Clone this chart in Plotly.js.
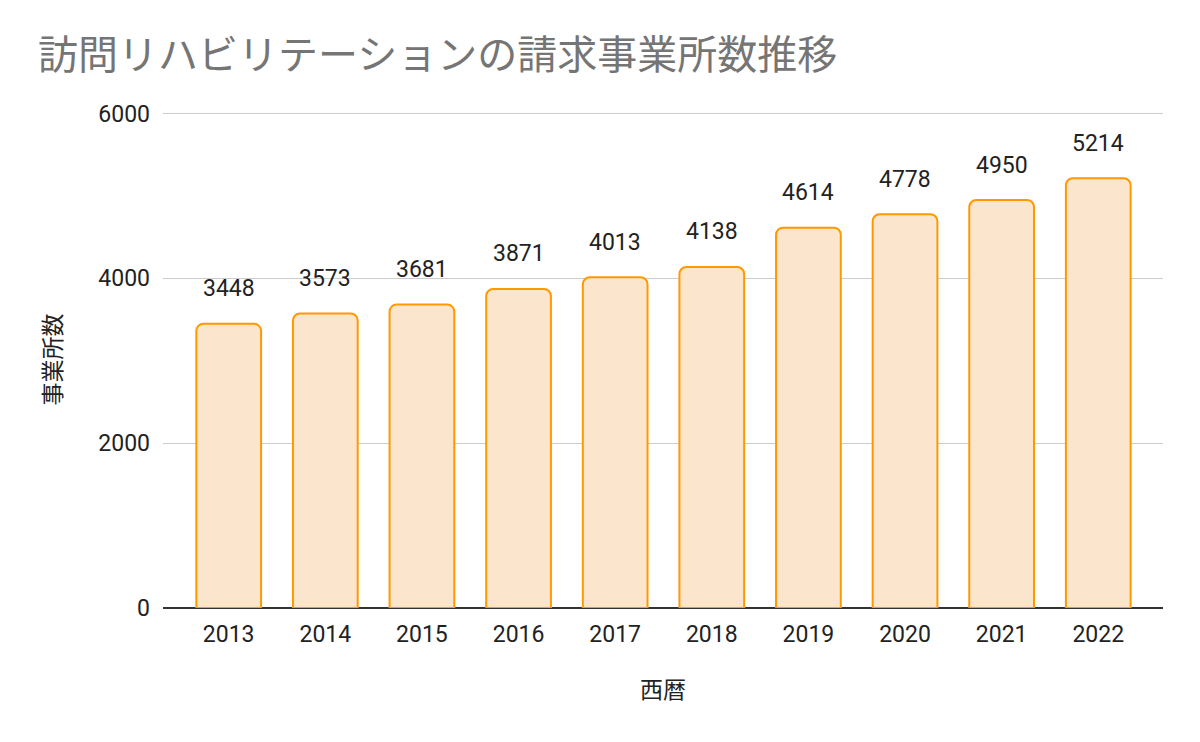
<!DOCTYPE html>
<html>
<head>
<meta charset="utf-8">
<script src="https://cdn.plot.ly/plotly-3.0.1.min.js"></script>
<style>html,body{margin:0;padding:0;background:#fff;}#chart{width:1200px;height:742px;}</style>
</head>
<body>
<div id="chart"></div>
<script>
const years = ["2013","2014","2015","2016","2017","2018","2019","2020","2021","2022"];
const counts = [3448, 3573, 3681, 3871, 4013, 4138, 4614, 4778, 4950, 5214];
const yTicks = [0, 2000, 4000, 6000];

const numFont = 'Roboto, Arial, sans-serif';
const cjkFont = 'Noto Sans CJK JP, sans-serif';

const trace = {
  type: 'bar',
  x: years,
  y: counts,
  width: 0.67,
  marker: {color: '#fce5cd', line: {color: '#ff9900', width: 2}},
  hoverinfo: 'none'
};

const annotations = years.map((yr, i) => ({
  x: i, y: counts[i], xref: 'x', yref: 'y',
  text: String(counts[i]), showarrow: false,
  xanchor: 'center', yanchor: 'middle', yshift: 35,
  font: {family: numFont, size: 23, color: '#222222'}
}));

const layout = {
  width: 1200, height: 742,
  margin: {l: 163, r: 37, t: 111, b: 134},
  paper_bgcolor: '#ffffff', plot_bgcolor: '#ffffff',
  barcornerradius: 7,
  showlegend: false,
  title: {
    text: '訪問リハビリテーションの請求事業所数推移',
    x: 38/1200, xanchor: 'left', xref: 'container',
    y: 1 - 55/742, yanchor: 'middle', yref: 'container',
    font: {family: cjkFont, size: 40, color: '#757575'}
  },
  xaxis: {
    type: 'category',
    range: [-0.68, 9.67],
    showgrid: false, showline: false, zeroline: false,
    ticks: '', ticklabelstandoff: 10,
    tickfont: {family: numFont, size: 23, color: '#222222'},
    title: {text: '西暦', standoff: 34, font: {family: cjkFont, size: 23, color: '#222222'}}
  },
  yaxis: {
    range: [0, 6030],
    tickvals: yTicks,
    ticktext: yTicks.map(String),
    showgrid: true, gridcolor: '#cccccc', gridwidth: 1,
    zeroline: true, zerolinecolor: '#333333', zerolinewidth: 2,
    showline: false, ticks: '',
    ticklabelstandoff: 12,
    tickfont: {family: numFont, size: 23, color: '#222222'},
    title: {text: '事業所数', standoff: 30, font: {family: cjkFont, size: 23, color: '#222222'}}
  },
  annotations: annotations
};

Plotly.newPlot('chart', [trace], layout, {displayModeBar: false, staticPlot: true});
</script>
</body>
</html>
